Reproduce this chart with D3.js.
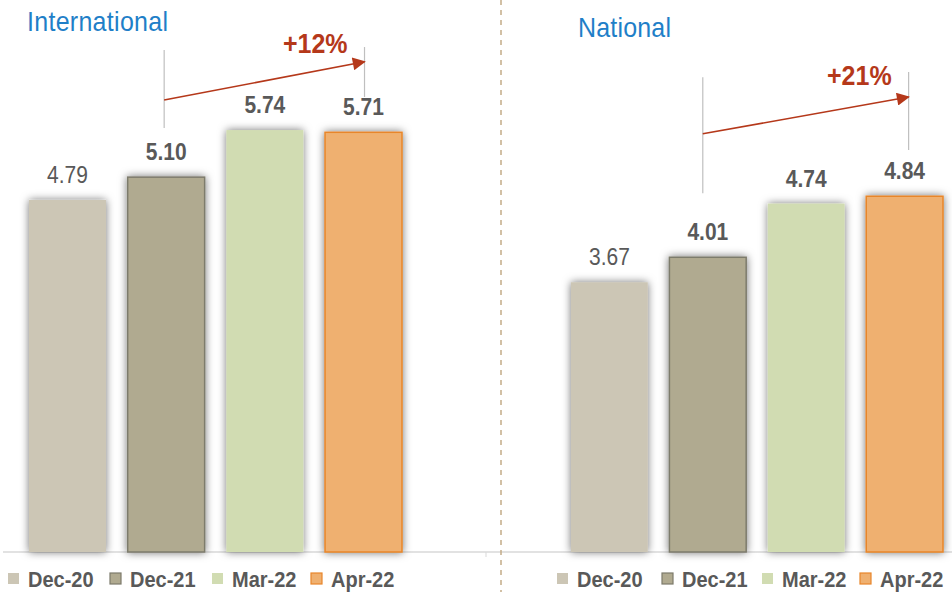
<!DOCTYPE html>
<html>
<head>
<meta charset="utf-8">
<script src="https://cdn.jsdelivr.net/npm/d3@7"></script>
<style>
  html, body { margin: 0; padding: 0; background: #fff; }
  svg { display: block; font-family: "Liberation Sans", Arial, sans-serif; }
</style>
</head>
<body>
<script>
const periods = ['Dec-20', 'Dec-21', 'Mar-22', 'Apr-22']
const intlValues = [4.79, 5.10, 5.74, 5.71]
const natValues = [3.67, 4.01, 4.74, 4.84]
const panelTitles = ['International', 'National']
const growthLabels = ['+12%', '+21%']

const fills = ['#ccc6b5', '#b0aa90', '#d1dcb2', '#efb070']
const strokes = ['none', '#7d7b6c', 'none', '#e8862a']

const w = 952
const h = 592
const baseline = 552
const stretch = 1.14   // text in the original looks a little tall

const svg = d3.select('body')
    .append('svg')
    .attr('width', w)
    .attr('height', h)

const defs = svg.append('defs')
const shadow = defs.append('filter')
    .attr('id', 'shadow')
    .attr('x', '-30%').attr('y', '-10%')
    .attr('width', '160%').attr('height', '120%')
shadow.append('feDropShadow')
    .attr('dx', 0).attr('dy', 0)
    .attr('stdDeviation', 4.5)
    .attr('flood-color', '#000')
    .attr('flood-opacity', 0.55)

defs.append('marker')
    .attr('id', 'arrowhead')
    .attr('viewBox', '0 0 10 10')
    .attr('refX', 9).attr('refY', 5)
    .attr('markerWidth', 17).attr('markerHeight', 13)
    .attr('orient', 'auto')
    .attr('markerUnits', 'userSpaceOnUse')
    .append('path')
    .attr('d', 'M0,0 L10,5 L0,10 Z')
    .attr('fill', '#b5381a')

// shared value scale
const yScale = d3.scaleLinear()
    .domain([0, 7.51])
    .range([baseline, 0])

// annotation heights kept in value units (line1, arrow, line2, label)
const panels = [
    {
        title: panelTitles[0], values: intlValues, growth: growthLabels[0],
        range: [29, 402], titleX: 27, titleY: 31,
        legendX: [8, 110, 212, 311],
        line1: [6.83, 5.77], line2: [6.87, 6.19], arrowFrom: 6.15, arrowTo: 6.67, labelY: 6.79,
        labelDx: [-2, 1]
    },
    {
        title: panelTitles[1], values: natValues, growth: growthLabels[1],
        range: [571, 943], titleX: 578, titleY: 37,
        legendX: [557, 662, 762, 860],
        line1: [6.46, 4.88], line2: [6.53, 5.47], arrowFrom: 5.69, arrowTo: 6.19, labelY: 6.35,
        labelDx: [-5, 4]
    }
]

const tall = (x, y) => `translate(${x},${y}) scale(1,${stretch})`

// baseline across both panels
svg.append('line')
    .attr('x1', 3).attr('x2', w)
    .attr('y1', baseline).attr('y2', baseline)
    .attr('stroke', '#d9d9d9').attr('stroke-width', 1.5)
svg.append('line')
    .attr('x1', 486).attr('x2', 486)
    .attr('y1', baseline).attr('y2', baseline + 5)
    .attr('stroke', '#d9d9d9').attr('stroke-width', 1)

// divider
svg.append('line')
    .attr('x1', 501).attr('x2', 501)
    .attr('y1', 0).attr('y2', h)
    .attr('stroke', '#c4ac88').attr('stroke-width', 1.5)
    .attr('stroke-dasharray', '5,5')

panels.forEach(p => {
    const xScale = d3.scaleBand()
        .domain(periods)
        .range(p.range)
        .paddingInner(0.22)
        .paddingOuter(0)

    const g = svg.append('g')

    g.append('text')
        .attr('transform', tall(p.titleX, p.titleY))
        .attr('fill', '#1f7fc8')
        .attr('font-size', 25)
        .attr('textLength', p.title.length > 8 ? 141 : 93)
        .text(p.title)

    g.selectAll('rect.bar')
        .data(p.values)
        .enter()
        .append('rect')
        .attr('class', 'bar')
        .attr('x', (d, i) => xScale(periods[i]))
        .attr('y', d => yScale(d))
        .attr('width', xScale.bandwidth())
        .attr('height', d => baseline - yScale(d))
        .attr('fill', (d, i) => fills[i])
        .attr('stroke', (d, i) => strokes[i])
        .attr('stroke-width', 1.5)
        .attr('filter', 'url(#shadow)')

    g.selectAll('text.value')
        .data(p.values)
        .enter()
        .append('text')
        .attr('class', 'value')
        .attr('transform', (d, i) => tall(xScale(periods[i]) + xScale.bandwidth() / 2, yScale(d) - 17))
        .attr('text-anchor', 'middle')
        .attr('fill', '#595959')
        .attr('font-size', 21)
        .attr('font-weight', (d, i) => i === 0 ? 'normal' : 'bold')
        .text(d => d.toFixed(2))

    // growth annotation
    const x1 = xScale(periods[1]) + xScale.bandwidth() / 2 + p.labelDx[0]
    const x2 = xScale(periods[3]) + xScale.bandwidth() / 2 + p.labelDx[1]
    g.append('line')
        .attr('x1', x1).attr('x2', x1)
        .attr('y1', yScale(p.line1[0])).attr('y2', yScale(p.line1[1]))
        .attr('stroke', '#bfbfbf').attr('stroke-width', 1.2)
    g.append('line')
        .attr('x1', x2).attr('x2', x2)
        .attr('y1', yScale(p.line2[0])).attr('y2', yScale(p.line2[1]))
        .attr('stroke', '#bfbfbf').attr('stroke-width', 1.2)
    g.append('line')
        .attr('x1', x1).attr('x2', x2)
        .attr('y1', yScale(p.arrowFrom)).attr('y2', yScale(p.arrowTo))
        .attr('stroke', '#b5381a').attr('stroke-width', 1.6)
        .attr('marker-end', 'url(#arrowhead)')
    g.append('text')
        .attr('transform', tall(x2 - 17, yScale(p.labelY)))
        .attr('text-anchor', 'end')
        .attr('fill', '#b5381a')
        .attr('font-size', 25)
        .attr('font-weight', 'bold')
        .text(p.growth)

    // legend
    const leg = g.selectAll('g.legend')
        .data(periods)
        .enter()
        .append('g')
        .attr('class', 'legend')
        .attr('transform', (d, i) => `translate(${p.legendX[i]},573)`)
    leg.append('rect')
        .attr('width', 11).attr('height', 11)
        .attr('fill', (d, i) => fills[i])
        .attr('stroke', (d, i) => strokes[i])
        .attr('stroke-width', 1.2)
    leg.append('text')
        .attr('transform', tall(20, 14))
        .attr('fill', '#595959')
        .attr('font-size', 20)
        .attr('font-weight', 'bold')
        .text(d => d)
})
</script>
</body>
</html>
